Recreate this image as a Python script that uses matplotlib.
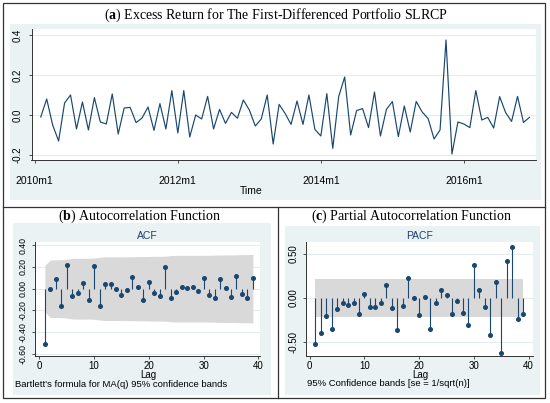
import matplotlib
matplotlib.use("Agg")
import matplotlib.pyplot as plt
from matplotlib.patches import Rectangle
from matplotlib.lines import Line2D

# ---- data ------------------------------------------------------------------
# monthly excess return, 2010m2 .. 2016m12 (month index 1 = 2010m2)
returns = [
    -0.010, 0.080, -0.050, -0.130, 0.060, 0.100, -0.070, 0.065, -0.075, 0.087,
    -0.035, -0.045, 0.105, -0.095, 0.035, 0.038, -0.038, -0.015, 0.040, -0.077,
    0.057, -0.070, 0.122, -0.090, 0.122, -0.110, 0.000, -0.020, 0.093, -0.070,
    0.028, -0.042, 0.013, -0.016, 0.075, 0.025, -0.055, -0.020, 0.100, -0.145,
    0.053, 0.008, -0.047, 0.070, -0.047, 0.100, -0.072, -0.105, 0.107, -0.167,
    0.093, 0.190, -0.100, 0.022, 0.032, -0.063, 0.115, -0.105, 0.028, 0.067,
    -0.108, 0.045, -0.085, 0.068, 0.015, -0.018, -0.120, -0.075, 0.375, -0.195,
    -0.035, -0.045, -0.063, 0.122, -0.025, -0.012, -0.065, 0.092, 0.012, -0.032,
    0.093, -0.037, -0.012,
]
months = list(range(1, len(returns) + 1))
time_ticks = [0, 24, 48, 72]
time_labels = ["2010m1", "2012m1", "2014m1", "2016m1"]

lags = list(range(1, 40))
acf = [
    -0.510, -0.005, 0.088, -0.160, 0.215, -0.070, -0.040, 0.050, -0.105, 0.205,
    -0.160, 0.040, 0.045, -0.006, -0.060, -0.012, 0.105, 0.020, -0.100, 0.063,
    -0.040, -0.070, 0.203, -0.090, -0.027, 0.018, 0.003, 0.015, -0.020, 0.097,
    -0.057, -0.082, 0.088, 0.010, -0.076, 0.118, -0.048, -0.082, 0.094,
]
# Bartlett band half-width at each lag
acf_band = [
    0.215, 0.265, 0.265, 0.267, 0.271, 0.279, 0.280, 0.280, 0.280, 0.282,
    0.289, 0.293, 0.293, 0.293, 0.293, 0.294, 0.294, 0.296, 0.296, 0.297,
    0.298, 0.298, 0.299, 0.305, 0.307, 0.307, 0.307, 0.307, 0.307, 0.307,
    0.308, 0.309, 0.310, 0.311, 0.311, 0.312, 0.314, 0.314, 0.315,
]
pacf = [
    -0.520, -0.390, -0.207, -0.355, -0.130, -0.060, -0.078, -0.055, -0.180, 0.048,
    -0.104, -0.104, -0.055, 0.145, -0.115, -0.360, -0.093, 0.222, 0.004, -0.190,
    0.007, -0.352, -0.055, 0.089, 0.033, -0.178, -0.030, -0.170, -0.307, 0.370,
    0.089, -0.104, -0.422, 0.185, -0.622, 0.411, 0.578, -0.237, -0.185,
]
pacf_band = 0.215

# ---- styling ---------------------------------------------------------------
W, H = 550, 403
NAVY = "#1a476f"
BG = "#eaf2f3"
GRID = "#e3edef"
BAND = "#d9d9d9"
SANS = "Liberation Sans"
SERIF = "Liberation Serif"

plt.rcParams["font.family"] = SANS
plt.rcParams["mathtext.fontset"] = "custom"
plt.rcParams["mathtext.rm"] = SERIF
plt.rcParams["mathtext.bf"] = SERIF + ":bold"

fig = plt.figure(figsize=(W / 100, H / 100), dpi=100)


def box(x0, y0, x1, y1):
    # pixel box (top-left origin) -> figure rect
    return [x0 / W, 1 - y1 / H, (x1 - x0) / W, (y1 - y0) / H]


def fx(x):
    return x / W


def fy(y):
    return 1 - y / H


def bg(x0, y0, x1, y1):
    fig.patches.append(Rectangle((fx(x0), fy(y1)), (x1 - x0) / W, (y1 - y0) / H,
                                 transform=fig.transFigure, facecolor=BG,
                                 edgecolor="none", zorder=-5))


def style_axes(ax, xpad, ypad, xsize, ysize):
    ax.set_facecolor("white")
    for s in ["top", "right"]:
        ax.spines[s].set_visible(False)
    for s in ["left", "bottom"]:
        ax.spines[s].set_color("#333333")
        ax.spines[s].set_linewidth(0.7)
    ax.tick_params(axis="both", direction="out", length=2.5, width=0.6,
                   color="#333333")
    ax.tick_params(axis="x", pad=xpad, labelsize=xsize)
    ax.tick_params(axis="y", pad=ypad, labelsize=ysize)
    for lab in ax.get_yticklabels():
        lab.set_rotation(90)
        lab.set_va("center")
    ax.yaxis.grid(True, color=GRID, lw=0.8)
    ax.set_axisbelow(True)


# frame lines
fig.patches.append(Rectangle((fx(3), fy(398)), (545 - 3) / W, (398 - 3) / H,
                             transform=fig.transFigure, fill=False,
                             edgecolor="#333333", lw=0.9, zorder=5))
fig.lines.append(Line2D([fx(3), fx(545)], [fy(207), fy(207)],
                        transform=fig.transFigure, color="#333333", lw=0.9))
fig.lines.append(Line2D([fx(278), fx(278)], [fy(207), fy(398)],
                        transform=fig.transFigure, color="#333333", lw=0.9))

# ---- (a) time series -------------------------------------------------------
bg(10, 24, 541, 200)
fig.text(fx(276), fy(15), r"($\mathbf{a}$) Excess Return for The First-Differenced Portfolio SLRCP",
         ha="center", va="center", fontsize=10, family=SERIF)
ax1 = fig.add_axes(box(31.5, 29, 536, 160))
ax1.plot(months, returns, color=NAVY, lw=0.85)
ax1.set_xlim(-0.55, 84.1)
ax1.set_ylim(-0.225, 0.43)
ax1.set_yticks([-0.2, 0.0, 0.2, 0.4])
ax1.set_yticklabels(["-0.2", "0.0", "0.2", "0.4"])
ax1.set_xticks(time_ticks)
ax1.set_xticklabels(time_labels)
style_axes(ax1, xpad=9, ypad=4, xsize=7.5, ysize=7)
fig.text(fx(251), fy(191), "Time", ha="center", va="center", fontsize=7.5)

# ---- (b) ACF ---------------------------------------------------------------
bg(12.7, 223, 270.7, 395)
fig.text(fx(139), fy(216), r"($\mathbf{b}$) Autocorrelation Function",
         ha="center", va="center", fontsize=10, family=SERIF)
ax2 = fig.add_axes(box(35, 242, 260, 356))
ax2.fill_between(lags, [-b for b in acf_band], acf_band, color=BAND, lw=0, zorder=1)
ax2.vlines(lags, 0, acf, color=NAVY, lw=0.8, zorder=2)
ax2.plot(lags, acf, "o", color=NAVY, ms=2.6, zorder=3)
ax2.set_xlim(-0.8, 40.3)
ax2.set_ylim(-0.62, 0.43)
ax2.set_yticks([-0.6, -0.4, -0.2, 0.0, 0.2, 0.4])
ax2.set_yticklabels(["-0.60", "-0.40", "-0.20", "0.00", "0.20", "0.40"])
ax2.set_xticks([0, 10, 20, 30, 40])
style_axes(ax2, xpad=1.2, ypad=3, xsize=7, ysize=6.3)
ax2.set_title("ACF", fontsize=7.5, color="#1f3f6e", pad=2)
fig.text(fx(148), fy(375), "Lag", ha="center", va="center", fontsize=7)
fig.text(fx(15), fy(384.5), "Bartlett's formula for MA(q) 95% confidence bands",
         ha="left", va="center", fontsize=6.8)

# ---- (c) PACF --------------------------------------------------------------
bg(285, 226, 540, 395)
fig.text(fx(412), fy(216), r"($\mathbf{c}$) Partial Autocorrelation Function",
         ha="center", va="center", fontsize=10, family=SERIF)
ax3 = fig.add_axes(box(306, 242, 533, 356))
ax3.fill_between(lags, -pacf_band, pacf_band, color=BAND, lw=0, zorder=1)
ax3.vlines(lags, 0, pacf, color=NAVY, lw=0.8, zorder=2)
ax3.plot(lags, pacf, "o", color=NAVY, ms=2.6, zorder=3)
ax3.set_xlim(-0.68, 40.8)
ax3.set_ylim(-0.654, 0.63)
ax3.set_yticks([-0.5, 0.0, 0.5])
ax3.set_yticklabels(["-0.50", "0.00", "0.50"])
ax3.set_xticks([0, 10, 20, 30, 40])
style_axes(ax3, xpad=1.2, ypad=3, xsize=7, ysize=7)
ax3.set_title("PACF", fontsize=7.5, color="#1f3f6e", pad=2)
fig.text(fx(420), fy(375), "Lag", ha="center", va="center", fontsize=7)
fig.text(fx(307), fy(384), "95% Confidence bands [se = 1/sqrt(n)]",
         ha="left", va="center", fontsize=6.8)

fig.savefig("out.png", dpi=100)
